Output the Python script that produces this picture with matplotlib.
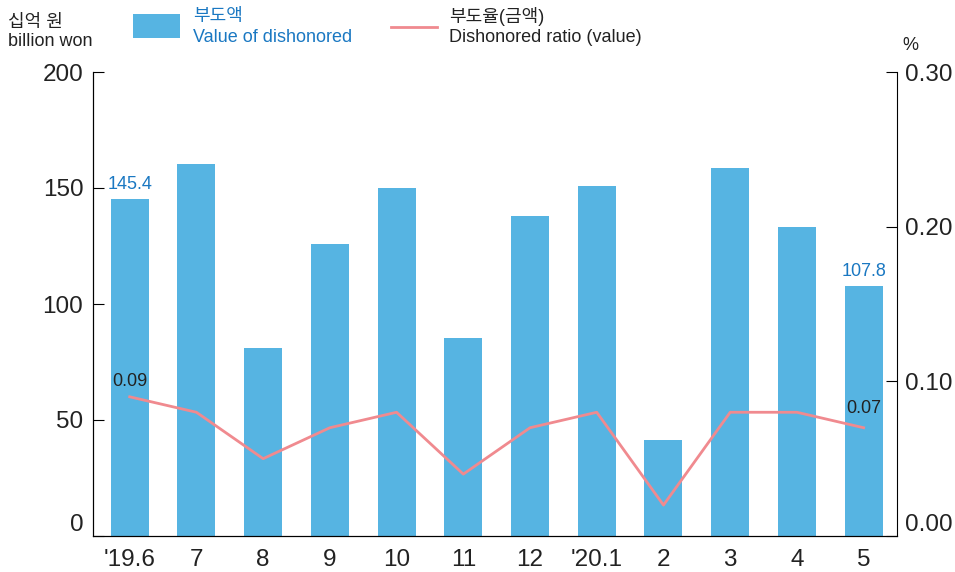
import matplotlib
matplotlib.use('Agg')
import matplotlib.pyplot as plt
from matplotlib.patches import Rectangle
from matplotlib.lines import Line2D

plt.rcParams['font.family'] = ['Liberation Sans Narrow', 'Liberation Sans', 'Noto Sans CJK KR', 'DejaVu Sans']

months = ["'19.6", '7', '8', '9', '10', '11', '12', "'20.1", '2', '3', '4', '5']
dishonored_value = [145.4, 160.5, 81.0, 125.9, 150.0, 85.3, 137.9, 150.9, 41.4, 158.6, 133.2, 107.8]
dishonored_ratio = [0.09, 0.08, 0.05, 0.07, 0.08, 0.04, 0.07, 0.08, 0.02, 0.08, 0.08, 0.07]

bar_color = '#56b4e2'
line_color = '#f08a8f'
blue_text = '#1a78c2'

fig = plt.figure(figsize=(9.55, 5.72), dpi=100)
ax = fig.add_axes([93/955, 1-536/572, (897-93)/955, (536-72)/572])
x = list(range(len(months)))
ax.bar(x, dishonored_value, width=0.57, color=bar_color, zorder=1)
ax.set_xlim(-0.55, 11.5)
ax.set_ylim(0, 200)
ax.set_yticks([0, 50, 100, 150, 200])
ax.set_xticks(x)
ax.set_xticklabels(months)
ax.spines['top'].set_visible(False)
ax.spines['right'].set_visible(False)
ax.tick_params(axis='y', direction='in', length=8, labelsize=17.5, pad=7, labelcolor='#222222')
ax.tick_params(axis='x', length=0, labelsize=17.5, pad=9, labelcolor='#222222')
ax.get_yticklabels()[0].set_va('bottom')

ax2 = ax.twinx()
ax2.plot(x, dishonored_ratio, color=line_color, lw=2, zorder=3)
ax2.set_ylim(0, 0.30)
ax2.set_yticks([0, 0.1, 0.2, 0.3])
ax2.set_yticklabels(['0.00', '0.10', '0.20', '0.30'])
ax2.spines['top'].set_visible(False)
ax2.tick_params(axis='y', direction='in', length=8, labelsize=17.5, pad=6, labelcolor='#222222')
ax2.get_yticklabels()[0].set_va('bottom')

# value labels
ax.annotate('145.4', (0, dishonored_value[0]), xytext=(0, 4), textcoords='offset points',
            ha='center', va='bottom', color=blue_text, fontsize=13)
ax.annotate('107.8', (11, dishonored_value[11]), xytext=(0, 4), textcoords='offset points',
            ha='center', va='bottom', color=blue_text, fontsize=13)
ax2.annotate('0.09', (0, dishonored_ratio[0]), xytext=(0, 5), textcoords='offset points',
             ha='center', va='bottom', color='#222222', fontsize=13)
ax2.annotate('0.07', (11, dishonored_ratio[11]), xytext=(0, 8), textcoords='offset points',
             ha='center', va='bottom', color='#222222', fontsize=13)

# unit labels
fig.text(8/955, 1-22/572, '십억 원', fontsize=13, va='center', ha='left', color='#222222')
fig.text(8/955, 1-41/572, 'billion won', fontsize=13, va='center', ha='left', color='#222222')
fig.text(910/955, 1-45/572, '%', fontsize=13, va='center', ha='center', color='#222222')

# legend
fig.patches.append(Rectangle((133/955, 1-38/572), 47/955, 24/572, transform=fig.transFigure,
                             facecolor=bar_color, edgecolor='none'))
fig.text(193/955, 1-17/572, '부도액', fontsize=13, va='center', ha='left', color=blue_text)
fig.text(193/955, 1-38/572, 'Value of dishonored', fontsize=13, va='center', ha='left', color=blue_text)
fig.lines.append(Line2D([391/955, 437/955], [1-27/572, 1-27/572], transform=fig.transFigure,
                        color=line_color, lw=2))
fig.text(449/955, 1-17/572, '부도율(금액)', fontsize=13, va='center', ha='left', color='#222222')
fig.text(449/955, 1-38/572, 'Dishonored ratio (value)', fontsize=13, va='center', ha='left', color='#222222')

fig.savefig('out.png', dpi=100)
